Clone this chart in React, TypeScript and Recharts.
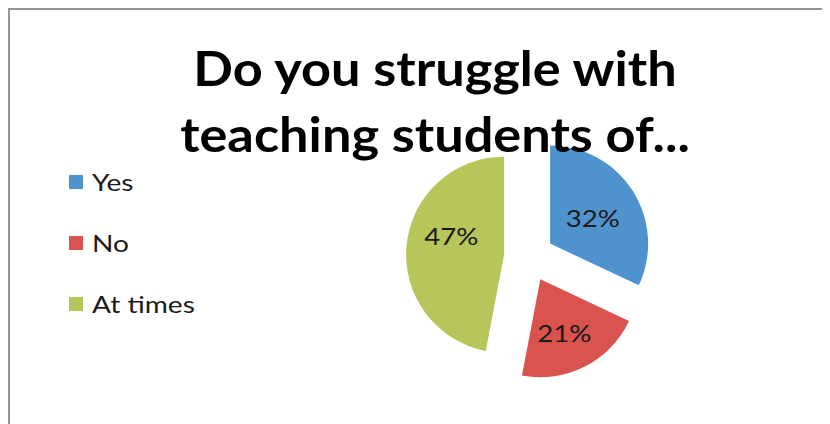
import { Legend, Pie, PieChart, Cell } from "recharts";

const categories = ["Yes", "No", "At times"];
const shares = [32, 21, 47];
const colors = ["#4F93CE", "#D9534F", "#B7C55A"];
const titleLines = ["Do you struggle with", "teaching students of..."];

const data = categories.map((name, i) => ({ name, value: shares[i] }));

const RAD = Math.PI / 180;
// cx/cy are measured from the plot area (5px default margin)
const CX = 514;
const CY = 242;
const R = 98;
const EXPLODE = 25;
const FONT = "Lato, 'Open Sans', sans-serif";
// small label nudges, the way the original placed them
const labelNudge = [
  [-2, 2],
  [0, 6],
  [0, -14],
];

// mid-angle of each slice (recharts degrees, clockwise from 12 o'clock)
const total = shares.reduce((a, b) => a + b, 0);
let acc = 0;
const mids = shares.map((v) => {
  const m = 90 - ((acc + v / 2) / total) * 360;
  acc += v;
  return m;
});

function sliceLabel(idx: number) {
  return (p: any) => {
    if (p.index !== idx) return null;
    const r = p.outerRadius * 0.54;
    const x = p.cx + r * Math.cos(-p.midAngle * RAD) + labelNudge[idx][0];
    const y = p.cy + r * Math.sin(-p.midAngle * RAD) + labelNudge[idx][1];
    return (
      <text
        transform={`translate(${x},${y}) scale(1.15,1)`}
        textAnchor="middle"
        dominantBaseline="central"
        fill="#1a1a1a"
        fontSize={24}
        fontFamily={FONT}
      >
        {`${Math.round(p.percent * 100)}%`}
      </text>
    );
  };
}

function LegendBox() {
  return (
    <div style={{ fontFamily: FONT, fontSize: 24, color: "#1a1a1a" }}>
      {categories.map((c, i) => (
        <div key={c} style={{ height: 61, display: "flex", alignItems: "center" }}>
          <span
            style={{
              width: 14,
              height: 14,
              background: colors[i],
              display: "inline-block",
              marginRight: 9,
            }}
          />
          <span
            style={{
              display: "inline-block",
              transform: "scaleX(1.17)",
              transformOrigin: "left center",
            }}
          >
            {c}
          </span>
        </div>
      ))}
    </div>
  );
}

export default function App() {
  return (
    <div
      style={{
        width: 820,
        height: 414,
        borderTop: "2px solid #959595",
        borderLeft: "2px solid #959595",
        position: "relative",
        background: "#fff",
      }}
    >
      <PieChart width={820} height={414}>
        {data.map((_, k) => (
          <Pie
            key={k}
            data={data}
            dataKey="value"
            nameKey="name"
            cx={CX + EXPLODE * Math.cos(mids[k] * RAD)}
            cy={CY - EXPLODE * Math.sin(mids[k] * RAD)}
            outerRadius={R}
            startAngle={90}
            endAngle={-270}
            stroke="none"
            label={sliceLabel(k)}
            labelLine={false}
            isAnimationActive={false}
          >
            {data.map((d, i) => (
              <Cell key={d.name} fill={i === k ? colors[i] : "none"} />
            ))}
          </Pie>
        ))}
        <Legend
          content={<LegendBox />}
          wrapperStyle={{ left: 59, top: 141, width: 200 }}
        />
      </PieChart>
      <svg
        width={820}
        height={200}
        style={{ position: "absolute", left: 0, top: 0, pointerEvents: "none" }}
      >
        {titleLines.map((t, i) => (
          <text
            key={t}
            transform={`translate(425,${76 + i * 66}) scale(1.09,1)`}
            textAnchor="middle"
            fontFamily={FONT}
            fontWeight="bold"
            fontSize={48}
            fill="#000"
          >
            {t}
          </text>
        ))}
      </svg>
    </div>
  );
}
